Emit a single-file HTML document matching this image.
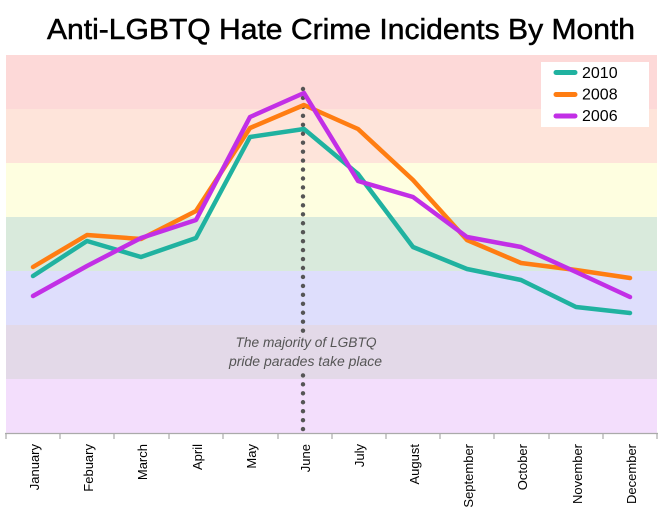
<!DOCTYPE html>
<html><head><meta charset="utf-8"><style>
html,body{margin:0;padding:0;background:#fff;}
svg{display:block;}
</style></head><body>
<svg width="664" height="519" viewBox="0 0 664 519" xmlns="http://www.w3.org/2000/svg">
<rect x="0" y="0" width="664" height="519" fill="#fff"/>
<text x="47" y="39" font-family="Liberation Sans, sans-serif" font-size="29" fill="#000" stroke="#000" stroke-width="0.5" textLength="588" lengthAdjust="spacingAndGlyphs">Anti-LGBTQ Hate Crime Incidents By Month</text>
<!-- bands -->
<rect x="6" y="55" width="651" height="54" fill="#fdd9d8"/>
<rect x="6" y="109" width="651" height="54" fill="#fee4da"/>
<rect x="6" y="163" width="651" height="54" fill="#fefee0"/>
<rect x="6" y="217" width="651" height="54" fill="#d9eadc"/>
<rect x="6" y="271" width="651" height="54" fill="#dedefc"/>
<rect x="6" y="325" width="651" height="54" fill="#e3d9e8"/>
<rect x="6" y="379" width="651" height="55" fill="#f3defc"/>
<!-- dotted line -->
<g fill="#555">
<circle cx="303" cy="89" r="2.2"/><circle cx="303" cy="97.95" r="2.2"/><circle cx="303" cy="106.9" r="2.2"/><circle cx="303" cy="115.85" r="2.2"/><circle cx="303" cy="124.8" r="2.2"/><circle cx="303" cy="133.75" r="2.2"/><circle cx="303" cy="142.7" r="2.2"/><circle cx="303" cy="151.65" r="2.2"/><circle cx="303" cy="160.6" r="2.2"/><circle cx="303" cy="169.55" r="2.2"/><circle cx="303" cy="178.5" r="2.2"/><circle cx="303" cy="187.45" r="2.2"/><circle cx="303" cy="196.4" r="2.2"/><circle cx="303" cy="205.35" r="2.2"/><circle cx="303" cy="214.3" r="2.2"/><circle cx="303" cy="223.25" r="2.2"/><circle cx="303" cy="232.2" r="2.2"/><circle cx="303" cy="241.15" r="2.2"/><circle cx="303" cy="250.1" r="2.2"/><circle cx="303" cy="259.05" r="2.2"/><circle cx="303" cy="268" r="2.2"/><circle cx="303" cy="276.95" r="2.2"/><circle cx="303" cy="285.9" r="2.2"/><circle cx="303" cy="294.85" r="2.2"/><circle cx="303" cy="303.8" r="2.2"/><circle cx="303" cy="312.75" r="2.2"/><circle cx="303" cy="321.7" r="2.2"/><circle cx="303" cy="330.65" r="2.2"/>
<circle cx="303" cy="375.4" r="2.2"/><circle cx="303" cy="384.35" r="2.2"/><circle cx="303" cy="393.3" r="2.2"/><circle cx="303" cy="402.25" r="2.2"/><circle cx="303" cy="411.2" r="2.2"/><circle cx="303" cy="420.15" r="2.2"/><circle cx="303" cy="429.1" r="2.2"/>
</g>
<text x="306" y="347" text-anchor="middle" font-family="Liberation Sans, sans-serif" font-style="italic" font-size="13.5" fill="#555" textLength="141" lengthAdjust="spacingAndGlyphs">The majority of LGBTQ</text>
<text x="305.5" y="366" text-anchor="middle" font-family="Liberation Sans, sans-serif" font-style="italic" font-size="13.5" fill="#555" textLength="153" lengthAdjust="spacingAndGlyphs">pride parades take place</text>
<!-- series -->
<g fill="none" stroke-width="4.5" stroke-linejoin="round" stroke-linecap="round">
<polyline stroke="#20b2a0" points="33,276 87,241 141,257 196,238 250,137 304,129 358,174 413,247 467,269 521,280 576,307 630,313"/>
<polyline stroke="#ff7d12" points="33,267 87,235 141,239 196,211 250,128 304,105 358,129 413,180 467,240 521,263 576,270 630,278"/>
<polyline stroke="#c22fe6" points="33,296 87,266 141,238 196,220 250,117 304,93 358,181 413,197 467,237 521,247 576,272 630,297"/>
</g>
<!-- legend -->
<rect x="541" y="62" width="108" height="65" fill="#fff"/>
<g stroke-width="5" stroke-linecap="round">
<line x1="556" y1="72.5" x2="575" y2="72.5" stroke="#20b2a0"/>
<line x1="556" y1="94.5" x2="575" y2="94.5" stroke="#ff7d12"/>
<line x1="556" y1="116" x2="575" y2="116" stroke="#c22fe6"/>
</g>
<g font-family="Liberation Sans, sans-serif" font-size="16" fill="#000">
<text x="582" y="78">2010</text>
<text x="582" y="99.5">2008</text>
<text x="582" y="121">2006</text>
</g>
<!-- axis -->
<line x1="5" y1="433.5" x2="658" y2="433.5" stroke="#aaa" stroke-width="1.2"/>
<g stroke="#aaa" stroke-width="1.2">
<line x1="6" y1="433" x2="6" y2="439"/><line x1="60" y1="433" x2="60" y2="439"/><line x1="114" y1="433" x2="114" y2="439"/><line x1="169" y1="433" x2="169" y2="439"/><line x1="223" y1="433" x2="223" y2="439"/><line x1="278" y1="433" x2="278" y2="439"/><line x1="332" y1="433" x2="332" y2="439"/><line x1="386" y1="433" x2="386" y2="439"/><line x1="440" y1="433" x2="440" y2="439"/><line x1="494" y1="433" x2="494" y2="439"/><line x1="549" y1="433" x2="549" y2="439"/><line x1="603" y1="433" x2="603" y2="439"/><line x1="657" y1="433" x2="657" y2="439"/>
</g>
<g font-family="Liberation Sans, sans-serif" font-size="13" fill="#000" text-anchor="end">
<text transform="translate(39,444) rotate(-90)">January</text>
<text transform="translate(93,444) rotate(-90)">Febuary</text>
<text transform="translate(147,444) rotate(-90)">March</text>
<text transform="translate(202,444) rotate(-90)">April</text>
<text transform="translate(256,444) rotate(-90)">May</text>
<text transform="translate(310,444) rotate(-90)">June</text>
<text transform="translate(364,444) rotate(-90)">July</text>
<text transform="translate(419,444) rotate(-90)">August</text>
<text transform="translate(473,444) rotate(-90)">September</text>
<text transform="translate(527,444) rotate(-90)">October</text>
<text transform="translate(582,444) rotate(-90)">November</text>
<text transform="translate(636,444) rotate(-90)">December</text>
</g>
</svg>
</body></html>
